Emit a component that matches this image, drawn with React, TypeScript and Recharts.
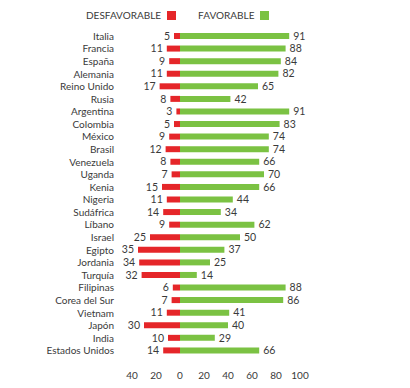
import React from "react";
import { BarChart, Bar, XAxis, YAxis, LabelList } from "recharts";

const countries = [
  "Italia", "Francia", "España", "Alemania", "Reino Unido", "Rusia",
  "Argentina", "Colombia", "México", "Brasil", "Venezuela", "Uganda",
  "Kenia", "Nigeria", "Sudáfrica", "Líbano", "Israel", "Egipto",
  "Jordania", "Turquía", "Filipinas", "Corea del Sur", "Vietnam", "Japón",
  "India", "Estados Unidos",
];
const desfavorable = [5, 11, 9, 11, 17, 8, 3, 5, 9, 12, 8, 7, 15, 11, 14, 9, 25, 35, 34, 32, 6, 7, 11, 30, 10, 14];
const favorable = [91, 88, 84, 82, 65, 42, 91, 83, 74, 74, 66, 70, 66, 44, 34, 62, 50, 37, 25, 14, 88, 86, 41, 40, 29, 66];
const xTicks = [-40, -20, 0, 20, 40, 60, 80, 100];

const RED = "#e52629";
const GREEN = "#7bc243";
const TEXT = "#3a3a3a";
const FONT = "Lato, 'Open Sans', sans-serif";

const data = countries.map((country, i) => ({
  country,
  desfav: -desfavorable[i],
  fav: favorable[i],
}));

// places the number just outside the free end of the bar
const valueLabel = (side: "left" | "right") => (props: any) => {
  const vb = props.viewBox ?? props;
  const { x, y, width, height } = vb;
  const lo = Math.min(x, x + width);
  const hi = Math.max(x, x + width);
  return (
    <text
      x={side === "left" ? lo - 4 : hi + 4}
      y={y + height / 2}
      dy="0.35em"
      textAnchor={side === "left" ? "end" : "start"}
      fontSize={10.5}
      fontFamily={FONT}
      fill={TEXT}
    >
      {Math.abs(Number(props.value))}
    </text>
  );
};

function LegendItem({ label, color }: { label: string; color: string }) {
  return (
    <div style={{ display: "flex", alignItems: "center", gap: 6 }}>
      <span style={{ fontSize: 10, color: TEXT }}>{label}</span>
      <span style={{ width: 9, height: 9, background: color, display: "inline-block" }} />
    </div>
  );
}

export default function App() {
  return (
    <div style={{ position: "absolute", left: 0, top: 0, width: 410, height: 388, background: "#fff", fontFamily: FONT }}>
      <div style={{ position: "absolute", left: 86, top: 9, display: "flex", gap: 22 }}>
        <LegendItem label="DESFAVORABLE" color={RED} />
        <LegendItem label="FAVORABLE" color={GREEN} />
      </div>
      <BarChart
        width={410}
        height={388}
        data={data}
        layout="vertical"
        stackOffset="sign"
        margin={{ top: 30, right: 98, bottom: 0, left: 0 }}
      >
        <XAxis
          type="number"
          domain={[-50, 110]}
          ticks={xTicks}
          tickFormatter={(v: number) => String(Math.abs(v))}
          axisLine={false}
          tickLine={false}
          tickSize={0}
          tickMargin={15}
          height={31}
          tick={{ fontSize: 10, fill: TEXT, fontFamily: FONT }}
        />
        <YAxis
          type="category"
          dataKey="country"
          width={120}
          interval={0}
          axisLine={false}
          tickLine={false}
          tickSize={0}
          tickMargin={6}
          tick={{ fontSize: 10, fill: TEXT, fontFamily: FONT }}
        />
        <Bar dataKey="desfav" stackId="a" fill={RED} barSize={6} isAnimationActive={false}>
          <LabelList dataKey="desfav" content={valueLabel("left")} />
        </Bar>
        <Bar dataKey="fav" stackId="a" fill={GREEN} barSize={6} isAnimationActive={false}>
          <LabelList dataKey="fav" content={valueLabel("right")} />
        </Bar>
      </BarChart>
    </div>
  );
}
